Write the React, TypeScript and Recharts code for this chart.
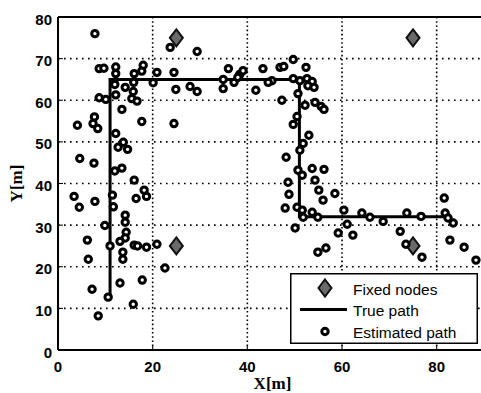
import React from 'react'
import {
  ScatterChart,
  Scatter,
  XAxis,
  YAxis,
  CartesianGrid,
  ReferenceLine,
  Legend
} from 'recharts'

// anchor nodes [x, y] in metres
const fixedNodes: [number, number][] = [
  [25, 75], [75, 75], [25, 25], [75, 25]
]

// corners of the walked route
const truePath: [number, number][] = [
  [11, 12], [11, 65], [51, 65], [51, 32], [82, 32]
]

// position estimates along the route
const estimatedPath: [number, number][] = [
  [7.8, 76], [8.7, 67.6], [9.7, 67.7], [12.2, 68.0], [12.2, 66.4], [16.1, 66.4],
  [18.0, 68.4], [17.7, 67.0], [20.9, 66.7], [20.1, 64.2], [12.0, 63.8], [14.2, 63.1],
  [15.9, 62.1], [16.0, 64.3], [8.7, 60.6], [10.1, 60.2], [12.2, 61.3], [15.6, 60.4],
  [16.7, 59.8], [13.5, 57.8], [17.7, 54.9], [4.1, 54.0], [7.7, 56.0], [7.4, 54.4],
  [8.4, 53.2], [12.2, 52.0], [13.8, 49.9], [12.7, 48.7], [14.7, 48.2], [4.6, 46.0],
  [7.6, 44.9], [12.0, 43.0], [13.5, 43.7], [16.1, 40.8], [18.2, 38.4], [24.5, 66.7],
  [24.9, 62.6], [24.5, 54.4], [23.7, 72.7], [29.4, 71.7], [27.9, 63.3], [29.4, 62.1],
  [3.4, 36.9], [4.5, 34.3], [7.8, 35.7], [11.5, 37.2], [11.7, 34.4], [16.5, 36.4],
  [18.7, 36.9], [14.2, 32.4], [14.2, 30.7], [9.9, 29.9], [14.4, 28.3], [14.2, 26.9],
  [13.1, 26.1], [6.2, 26.4], [11.0, 25.0], [16.1, 25.2], [16.8, 25.0], [18.7, 24.7],
  [20.9, 25.4], [13.7, 23.5], [13.7, 21.8], [6.4, 21.8], [22.6, 19.7], [7.2, 14.6],
  [13.1, 16.1], [17.8, 16.8], [10.6, 12.7], [15.9, 11.0], [8.5, 8.2],
  [34.9, 65.0], [36.0, 67.6], [34.9, 62.8], [37.2, 64.3], [38.4, 66.2], [39.1, 67.1],
  [38.0, 65.5], [41.8, 62.4], [43.3, 67.6], [45.2, 64.7], [44.4, 64.3], [46.9, 67.9],
  [47.7, 68.1], [49.7, 69.8], [47.3, 60.0], [52.4, 67.9], [49.7, 65.2], [51.1, 64.7],
  [52.6, 65.2], [53.7, 64.5], [52.8, 63.5], [54.1, 63.1], [50.7, 61.6], [52.2, 58.8],
  [54.3, 59.5], [55.6, 58.5], [56.2, 57.8], [50.5, 56.1], [49.7, 54.2],
  [53.0, 51.6], [51.8, 49.6], [51.1, 48.0], [48.2, 46.3], [50.7, 43.2], [51.6, 42.0],
  [53.7, 43.6], [56.2, 43.4], [54.3, 40.8], [48.6, 40.3], [55.1, 38.4], [48.8, 37.4],
  [58.5, 37.6], [56.0, 36.0], [48.0, 34.1], [50.5, 34.3], [51.6, 33.6], [51.8, 31.9],
  [53.7, 33.1], [54.9, 31.9], [60.4, 33.6], [50.1, 29.3], [64.2, 32.9], [61.1, 30.2],
  [59.2, 28.1], [62.3, 27.6], [54.9, 23.5], [56.6, 24.5],
  [65.9, 31.9], [68.7, 30.9], [72.3, 28.5], [73.7, 32.9], [76.7, 32.1], [73.5, 25.4],
  [76.9, 22.3], [81.6, 36.5], [81.8, 32.9], [82.4, 31.7], [83.5, 30.5], [82.8, 26.4],
  [85.8, 24.7], [88.3, 21.6]
]

const xTicks = [0, 20, 40, 60, 80]
const yTicks = [0, 10, 20, 30, 40, 50, 60, 70, 80]

const toPoints = (list: [number, number][]) => list.map(([x, y]) => ({ x, y }))

const tickFont = '"Liberation Sans", Arial, sans-serif'
const titleFont = '"Liberation Serif", "Times New Roman", serif'

const Diamond = ({ cx, cy }: any) => (
  <polygon
    points={`${cx},${cy - 8.5} ${cx + 6.5},${cy} ${cx},${cy + 8.5} ${cx - 6.5},${cy}`}
    fill="#6a6a6a"
    stroke="#111"
    strokeWidth={2}
  />
)

const Ring = ({ cx, cy }: any) => (
  <circle cx={cx} cy={cy} r={3.2} fill="#fff" stroke="#000" strokeWidth={3} />
)

// dotted grid: wider spacing along rows than along columns
const gridRow = ({ x1, y1, x2, y2 }: any) => (
  <line x1={x1} y1={y1} x2={x2} y2={y2} stroke="#000" strokeWidth={1.6} strokeDasharray="1.6 4.4" />
)
const gridCol = ({ x1, y1, x2, y2 }: any) => (
  <line x1={x1} y1={y1} x2={x2} y2={y2} stroke="#000" strokeWidth={1.6} strokeDasharray="1.6 2.6" />
)

const XTick = ({ x, y, payload }: any) => (
  <text x={x} y={y + 27} textAnchor="middle" fontFamily={tickFont} fontWeight="bold" fontSize={15} fill="#000">
    {payload.value}
  </text>
)

const YTick = ({ x, y, payload }: any) => (
  <text x={x} y={y + 7.5} textAnchor="end" fontFamily={tickFont} fontWeight="bold" fontSize={15} fill="#000">
    {payload.value}
  </text>
)

const XTitle = ({ viewBox }: any) => (
  <text x={viewBox.x + viewBox.width / 2 + 1.5} y={viewBox.y + 39} textAnchor="middle"
    fontFamily={titleFont} fontWeight="bold" fontSize={17} fill="#000">
    X[m]
  </text>
)

const YTitle = ({ viewBox }: any) => {
  const x = viewBox.x + 22
  const y = viewBox.y + viewBox.height / 2
  return (
    <text x={x} y={y} transform={`rotate(-90, ${x}, ${y})`} textAnchor="middle"
      fontFamily={titleFont} fontWeight="bold" fontSize={17} fill="#000">
      Y[m]
    </text>
  )
}

const legendText = { fontFamily: tickFont, fontSize: 15.5, fill: '#000' }

const LegendBox = () => (
  <svg width={188} height={71} style={{ display: 'block' }}>
    <rect x={0.75} y={0.75} width={186.5} height={69.5} fill="#fff" stroke="#000" strokeWidth={1.5} />
    <Diamond cx={35} cy={15} />
    <text x={63} y={22} {...legendText}>Fixed nodes</text>
    <line x1={10} x2={57} y1={36.5} y2={36.5} stroke="#000" strokeWidth={3} />
    <text x={63} y={43} {...legendText}>True path</text>
    <Ring cx={35} cy={58.5} />
    <text x={63} y={65} {...legendText}>Estimated path</text>
  </svg>
)

export default function App() {
  return (
    <div style={{ position: 'fixed', left: 0, top: 0, width: 481, height: 393, overflow: 'hidden', background: '#fff' }}>
      <ScatterChart width={490} height={393} margin={{ top: 17, right: 6, bottom: 0, left: 0 }}>
        <CartesianGrid horizontal={gridRow} vertical={gridCol} />
        <XAxis
          type="number"
          dataKey="x"
          domain={[0, 90]}
          ticks={xTicks}
          height={43}
          tickSize={-5}
          tickMargin={0}
          tick={XTick}
          tickLine={{ stroke: '#000', strokeWidth: 1 }}
          axisLine={{ stroke: '#000', strokeWidth: 2 }}
          allowDataOverflow
          label={XTitle}
        />
        <YAxis
          type="number"
          dataKey="y"
          domain={[0, 80]}
          ticks={yTicks}
          width={58}
          tickSize={-5}
          tickMargin={11}
          tick={YTick}
          tickLine={{ stroke: '#000', strokeWidth: 1 }}
          axisLine={{ stroke: '#000', strokeWidth: 2 }}
          allowDataOverflow
          label={YTitle}
        />
        <ReferenceLine y={80} stroke="#000" strokeWidth={2} />
        <ReferenceLine x={90} stroke="#000" strokeWidth={2} />
        <Scatter name="Fixed nodes" data={toPoints(fixedNodes)} shape={Diamond} isAnimationActive={false} />
        <Scatter
          name="True path"
          data={toPoints(truePath)}
          line={{ stroke: '#000', strokeWidth: 3 }}
          shape={() => <g />}
          isAnimationActive={false}
        />
        <Scatter name="Estimated path" data={toPoints(estimatedPath)} shape={Ring} isAnimationActive={false} />
        <Legend
          layout="vertical"
          align="center"
          verticalAlign="middle"
          wrapperStyle={{ left: 290, top: 273, width: 188, height: 71 }}
          content={LegendBox}
        />
      </ScatterChart>
    </div>
  )
}
